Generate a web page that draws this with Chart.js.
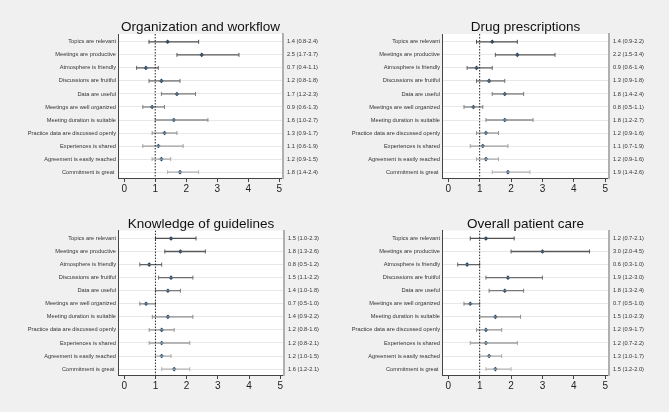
<!DOCTYPE html>
<html>
<head>
<meta charset="utf-8">
<script src="https://cdn.jsdelivr.net/npm/chart.js@4"></script>
<style>
  html, body { margin:0; padding:0; background:#f0f0f0; }
  body { width:669px; height:412px; position:relative; overflow:hidden; font-family:"Liberation Sans", Arial, sans-serif; }
  .panel { position:absolute; }
  .title { position:absolute; font-size:13.5px; color:#111; white-space:nowrap; transform:translate(-50%,-50%); line-height:1; }
</style>
</head>
<body>
<div class="panel" id="p1"><canvas id="c1"></canvas></div>
<div class="panel" id="p2"><canvas id="c2"></canvas></div>
<div class="panel" id="p3"><canvas id="c3"></canvas></div>
<div class="panel" id="p4"><canvas id="c4"></canvas></div>
<div class="title" id="t1"></div>
<div class="title" id="t2"></div>
<div class="title" id="t3"></div>
<div class="title" id="t4"></div>
<script>
// ---- data ----
const categories = [
  "Topics are relevant",
  "Meetings are productive",
  "Atmosphere is friendly",
  "Discussions are fruitful",
  "Data are useful",
  "Meetings are well organized",
  "Meeting duration is suitable",
  "Practice data are discussed openly",
  "Experiences is shared",
  "Agreement is easily reached",
  "Commitment is great "
];
const panelTitles = ["Organization and workflow", "Drug prescriptions", "Knowledge of guidelines", "Overall patient care"];
const xTicks = [0, 1, 2, 3, 4, 5];
const refValue = 1;

const orgOR = [1.4, 2.5, 0.7, 1.2, 1.7, 0.9, 1.6, 1.3, 1.1, 1.2, 1.8];
const orgLo = [0.8, 1.7, 0.4, 0.8, 1.2, 0.6, 1.0, 0.9, 0.6, 0.9, 1.4];
const orgHi = [2.4, 3.7, 1.1, 1.8, 2.3, 1.3, 2.7, 1.7, 1.9, 1.5, 2.4];

const drugOR = [1.4, 2.2, 0.9, 1.3, 1.8, 0.8, 1.8, 1.2, 1.1, 1.2, 1.9];
const drugLo = [0.9, 1.5, 0.6, 0.9, 1.4, 0.5, 1.2, 0.9, 0.7, 0.9, 1.4];
const drugHi = [2.2, 3.4, 1.4, 1.8, 2.4, 1.1, 2.7, 1.6, 1.9, 1.6, 2.6];

const guideOR = [1.5, 1.8, 0.8, 1.5, 1.4, 0.7, 1.4, 1.2, 1.2, 1.2, 1.6];
const guideLo = [1.0, 1.3, 0.5, 1.1, 1.0, 0.5, 0.9, 0.8, 0.8, 1.0, 1.2];
const guideHi = [2.3, 2.6, 1.2, 2.2, 1.8, 1.0, 2.2, 1.6, 2.1, 1.5, 2.1];

const careOR = [1.2, 3.0, 0.6, 1.9, 1.8, 0.7, 1.5, 1.2, 1.2, 1.3, 1.5];
const careLo = [0.7, 2.0, 0.3, 1.2, 1.3, 0.5, 1.0, 0.9, 0.7, 1.0, 1.2];
const careHi = [2.1, 4.5, 1.0, 3.0, 2.4, 1.0, 2.3, 1.7, 2.2, 1.7, 2.0];

// ---- layout (style only) ----
const layouts = [
  { left:0,   top:0,   w:335, h:205, yW:118, rW:52, padTop:34,   xH:27 },
  { left:335, top:0,   w:334, h:205, yW:107, rW:60, padTop:34,   xH:27 },
  { left:0,   top:205, w:335, h:207, yW:118, rW:51, padTop:25.6, xH:37 },
  { left:335, top:205, w:334, h:207, yW:107, rW:60, padTop:25.6, xH:37 }
];
const titleOffset = 7;
const X_MIN = -0.2, X_MAX = 5.12, Y_MIN = -0.6, Y_MAX = 10.45;
const FONT = "'Liberation Sans', Arial, sans-serif";

const bgPlugin = {
  id: 'plotBg',
  beforeDraw(chart) {
    const { ctx, chartArea: a } = chart;
    ctx.save();
    ctx.fillStyle = '#ffffff';
    ctx.fillRect(a.left, a.top, a.right - a.left, a.bottom - a.top);
    ctx.restore();
  }
};

function fmt(v) { return v.toFixed(1); }

function ciColor(i) {
  const t = i / (categories.length - 1);
  const g = Math.round(80 + t * 100);
  return `rgb(${g},${g},${g})`;
}

function makeChart(idx, or, lo, hi) {
  const L = layouts[idx];
  const panel = document.getElementById('p' + (idx + 1));
  panel.style.left = L.left + 'px';
  panel.style.top = L.top + 'px';
  panel.style.width = L.w + 'px';
  panel.style.height = L.h + 'px';

  const rightLabels = or.map((v, i) => `${fmt(v)} (${fmt(lo[i])}-${fmt(hi[i])})`);

  const datasets = [];
  datasets.push({
    data: [{ x: refValue, y: Y_MIN }, { x: refValue, y: Y_MAX }],
    showLine: true, borderColor: '#222', borderWidth: 1, borderDash: [1.5, 1.5],
    pointRadius: 0, yAxisID: 'y'
  });
  categories.forEach((c, i) => {
    const col = ciColor(i);
    datasets.push({
      data: [{ x: lo[i], y: i }, { x: hi[i], y: i }],
      showLine: true, borderColor: col, borderWidth: 1.3,
      pointStyle: 'line', rotation: 90, pointRadius: 2, pointBorderWidth: 1,
      pointBorderColor: col, pointBackgroundColor: col, yAxisID: 'y'
    });
  });
  datasets.push({
    data: or.map((v, i) => ({ x: v, y: i })),
    pointStyle: 'rectRot', pointRadius: 2.3, backgroundColor: '#1a476f',
    borderColor: '#1a476f', borderWidth: 0, yAxisID: 'y'
  });

  new Chart(document.getElementById('c' + (idx + 1)), {
    type: 'scatter',
    data: { datasets },
    plugins: [bgPlugin],
    options: {
      responsive: true, maintainAspectRatio: false, animation: false,
      layout: { padding: { top: L.padTop, left: 0, right: 0, bottom: 0 } },
      plugins: { legend: { display: false }, tooltip: { enabled: false }, title: { display: false } },
      scales: {
        x: {
          type: 'linear', min: X_MIN, max: X_MAX,
          afterBuildTicks: s => { s.ticks = xTicks.map(v => ({ value: v })); },
          afterFit: s => { s.height = L.xH; },
          grid: { drawOnChartArea: false, drawTicks: true, tickLength: 4, color: '#444', tickColor: '#444' },
          border: { color: '#444', width: 1 },
          ticks: { font: { size: 10, family: FONT }, color: '#222', padding: 1, maxRotation: 0, autoSkip: false }
        },
        y: {
          type: 'linear', reverse: true, min: Y_MIN, max: Y_MAX, position: 'left',
          afterBuildTicks: s => { s.ticks = categories.map((c, i) => ({ value: i })); },
          afterFit: s => { s.width = L.yW; },
          grid: { color: '#e8e8e8', lineWidth: 1, drawTicks: false },
          border: { color: '#444', width: 1 },
          ticks: { callback: v => categories[v], font: { size: 5.7, family: FONT }, color: '#333', padding: 2, autoSkip: false }
        },
        y2: {
          type: 'linear', reverse: true, min: Y_MIN, max: Y_MAX, position: 'right',
          afterBuildTicks: s => { s.ticks = categories.map((c, i) => ({ value: i })); },
          afterFit: s => { s.width = L.rW; },
          grid: { drawOnChartArea: false, drawTicks: false },
          border: { color: '#b0b0b0', width: 2 },
          ticks: { callback: v => rightLabels[v], font: { size: 5.7, family: FONT }, color: '#333', padding: 4, autoSkip: false }
        }
      }
    }
  });

  const chartLeft = L.left + L.yW;
  const chartRight = L.left + L.w - L.rW;
  const t = document.getElementById('t' + (idx + 1));
  t.textContent = panelTitles[idx];
  t.style.left = ((chartLeft + chartRight) / 2) + 'px';
  t.style.top = (L.top + L.padTop - titleOffset) + 'px';
}

makeChart(0, orgOR, orgLo, orgHi);
makeChart(1, drugOR, drugLo, drugHi);
makeChart(2, guideOR, guideLo, guideHi);
makeChart(3, careOR, careLo, careHi);
</script>
</body>
</html>
